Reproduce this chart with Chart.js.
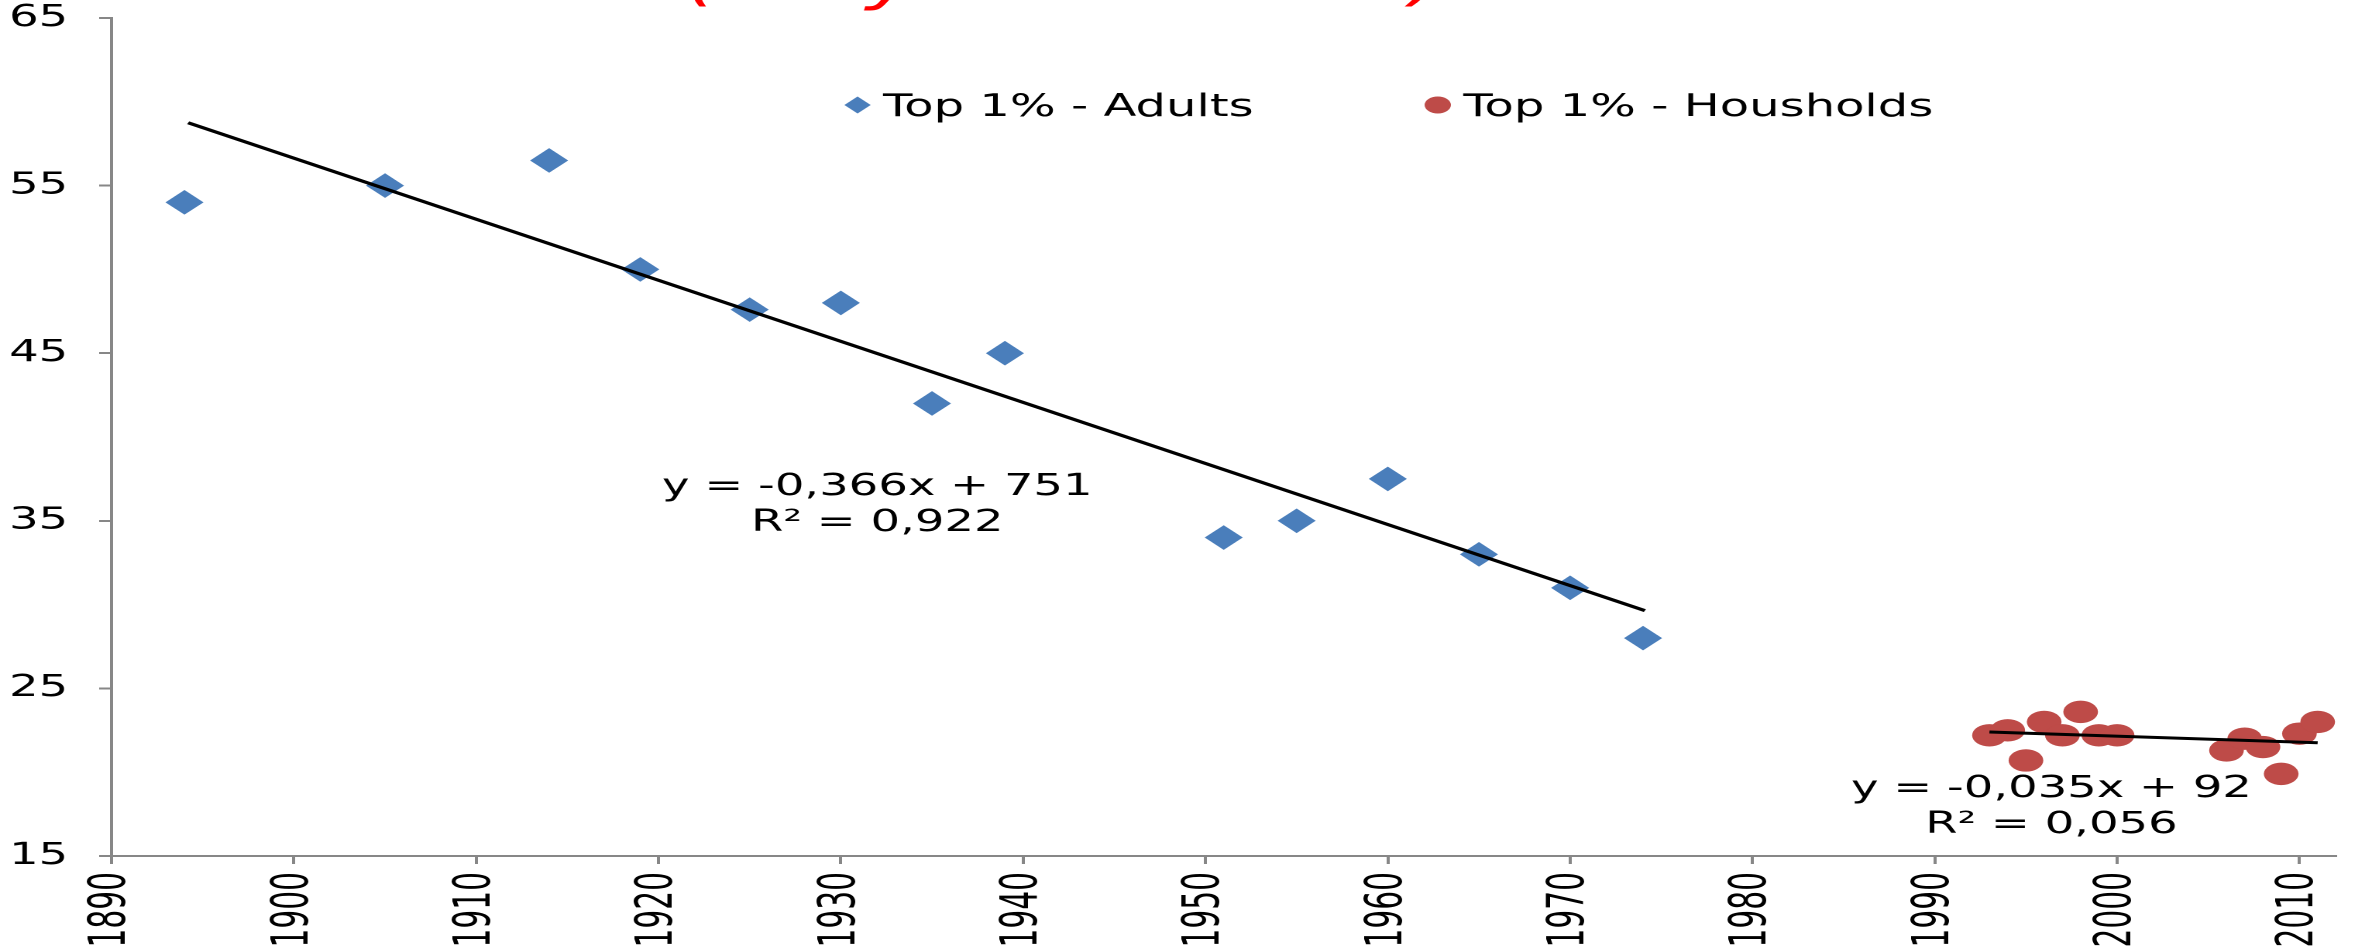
<!DOCTYPE html>
<html>
<head>
<meta charset="utf-8">
<title>Top 1% share - adults vs households</title>
<script src="https://cdn.jsdelivr.net/npm/chart.js@4.4.1/dist/chart.umd.min.js"></script>
<style>
  html, body { margin: 0; padding: 0; background: #fff; overflow: hidden; }
  /* the original picture is a horizontally stretched Excel chart */
  #wrap { position: relative; width: 1520px; height: 952px; transform: scaleX(1.5493); transform-origin: 0 0; }
</style>
</head>
<body>
<div id="wrap"><canvas id="chart"></canvas></div>
<script>
// Data
const adultYears = [1894, 1905, 1914, 1919, 1925, 1930, 1935, 1939, 1951, 1955, 1960, 1965, 1970, 1974];
const adultShares = [54, 55, 56.5, 50, 47.6, 48, 42, 45, 34, 35, 37.5, 33, 31, 28];
const householdYears = [1993, 1994, 1995, 1996, 1997, 1998, 1999, 2000, 2006, 2007, 2008, 2009, 2010, 2011];
const householdShares = [22.2, 22.5, 20.7, 23.0, 22.2, 23.6, 22.2, 22.2, 21.3, 22.0, 21.5, 19.9, 22.3, 23.0];

// Trend line end points (as drawn)
const adultTrendYears = [1894.2, 1974.1];
const adultTrendShares = [58.75, 29.64];
const householdTrendYears = [1993, 2011];
const householdTrendShares = [22.4, 21.76];

const yearTicks = [1890, 1900, 1910, 1920, 1930, 1940, 1950, 1960, 1970, 1980, 1990, 2000, 2010];
const shareTicks = [15, 25, 35, 45, 55, 65];

const seriesLabels = ['Top 1% - Adults', 'Top 1% - Housholds'];
const equationTexts = [
  ['y = -0,366x + 751', 'R² = 0,922'],
  ['y = -0,035x + 92', 'R² = 0,056']
];
const equationAnchors = [[1932, 36.54], [1996.4, 18.52]];
const titleText = '(Only the richest)';

const axisGray = '#878787';
const blue = '#4A7EBB';
const red = '#BE4B48';

Chart.defaults.font.family = "'DejaVu Sans', sans-serif";
Chart.defaults.color = '#000';

// the rotated year labels use a narrow face when one is installed
function hasFont(name) {
  const c = document.createElement('canvas').getContext('2d');
  c.font = '40px monospace';
  const a = c.measureText('1890 Top').width;
  c.font = `40px "${name}", monospace`;
  return c.measureText('1890 Top').width !== a;
}
const xTickFont = hasFont('Liberation Sans Narrow')
  ? { family: "'Liberation Sans Narrow'", size: 41 }
  : { family: "'DejaVu Sans Condensed', 'DejaVu Sans'", size: 33 };

const toPoints = (xs, ys) => xs.map((x, i) => ({ x: x, y: ys[i] }));

// title fragment (cut by the top edge), legend and trend equations
const overlay = {
  id: 'overlay',
  afterDraw(chart) {
    const ctx = chart.ctx;
    const xs = chart.scales.x, ys = chart.scales.y;
    ctx.save();

    ctx.fillStyle = '#FF0000';
    ctx.font = "italic 56px 'DejaVu Sans'";
    ctx.textAlign = 'left';
    ctx.textBaseline = 'alphabetic';
    ctx.fillText(titleText, 442, -1);

    const legendItems = [
      { ds: chart.data.datasets[2], x: 553.5 },
      { ds: chart.data.datasets[3], x: 928 }
    ];
    ctx.font = "31px 'DejaVu Sans'";
    legendItems.forEach(item => {
      ctx.fillStyle = item.ds.backgroundColor;
      Chart.helpers.drawPoint(ctx, { pointStyle: item.ds.pointStyle, radius: 8.5, rotation: 0, borderWidth: 0 }, item.x, 105);
      ctx.fillStyle = '#000';
      ctx.fillText(item.ds.label, item.x + 16.5, 116);
    });

    ctx.font = "30px 'DejaVu Sans'";
    ctx.textAlign = 'center';
    equationTexts.forEach((lines, i) => {
      const px = xs.getPixelForValue(equationAnchors[i][0]);
      const py = ys.getPixelForValue(equationAnchors[i][1]);
      lines.forEach((t, j) => ctx.fillText(t, px, py + j * 36));
    });
    ctx.restore();
  }
};

new Chart(document.getElementById('chart'), {
  type: 'scatter',
  data: {
    datasets: [
      {
        label: 'Adults trend',
        data: toPoints(adultTrendYears, adultTrendShares),
        showLine: true, pointRadius: 0, borderColor: '#000', borderWidth: 3, order: 0
      },
      {
        label: 'Households trend',
        data: toPoints(householdTrendYears, householdTrendShares),
        showLine: true, pointRadius: 0, borderColor: '#000', borderWidth: 3, order: 0
      },
      {
        label: seriesLabels[0],
        data: toPoints(adultYears, adultShares),
        pointStyle: 'rectRot', pointRadius: 12.3, borderWidth: 0,
        backgroundColor: blue, borderColor: blue, order: 1
      },
      {
        label: seriesLabels[1],
        data: toPoints(householdYears, householdShares),
        pointStyle: 'circle', pointRadius: 11.2, borderWidth: 0,
        backgroundColor: red, borderColor: red, order: 1
      }
    ]
  },
  options: {
    responsive: true,
    maintainAspectRatio: false,
    animation: false,
    events: [],
    devicePixelRatio: 2,
    layout: { padding: { top: 0, right: 7, bottom: 0, left: 0 } },
    plugins: {
      legend: { display: false },
      tooltip: { enabled: false }
    },
    scales: {
      x: {
        type: 'linear',
        min: 1890,
        max: 2012,
        afterBuildTicks: s => { s.ticks = yearTicks.map(v => ({ value: v })); },
        afterFit: s => { s.height = 96; s.paddingLeft = 0; s.paddingRight = 0; },
        ticks: {
          autoSkip: false, minRotation: 90, maxRotation: 90, padding: 8,
          color: '#000', font: xTickFont,
          callback: v => String(v)
        },
        grid: { drawOnChartArea: false, drawTicks: true, tickLength: 8, color: axisGray, lineWidth: 2 },
        border: { display: true, color: axisGray, width: 2 }
      },
      y: {
        type: 'linear',
        min: 15,
        max: 65,
        afterBuildTicks: s => { s.ticks = shareTicks.map(v => ({ value: v })); },
        afterFit: s => { s.width = 72; s.paddingTop = 18; s.paddingBottom = 0; },
        ticks: {
          padding: 20, color: '#000', font: { size: 30 },
          callback: v => String(v)
        },
        grid: { drawOnChartArea: false, drawTicks: true, tickLength: 8, color: axisGray, lineWidth: 2 },
        border: { display: true, color: axisGray, width: 2 }
      }
    }
  },
  plugins: [overlay]
});
</script>
</body>
</html>
